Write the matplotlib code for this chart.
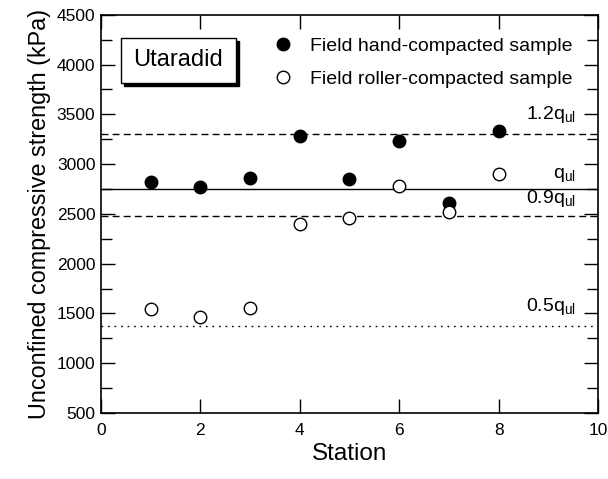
import matplotlib
matplotlib.use("Agg")
import matplotlib.pyplot as plt
from matplotlib.patches import Rectangle
from matplotlib.ticker import MultipleLocator

plt.rcParams['font.family'] = ['Liberation Sans', 'DejaVu Sans']
plt.rcParams['mathtext.fontset'] = 'custom'
plt.rcParams['mathtext.rm'] = 'Liberation Sans'
plt.rcParams['mathtext.it'] = 'Liberation Sans'

stations = [1, 2, 3, 4, 5, 6, 7, 8]
hand_compacted = [2820, 2770, 2860, 3280, 2850, 3230, 2610, 3330]
roller_compacted = [1545, 1460, 1550, 2400, 2460, 2780, 2520, 2900]
q_ul = 2750
ref_factors = [1.2, 1.0, 0.9, 0.5]
ref_labels = [r'1.2q$_{\mathrm{ul}}$', r'q$_{\mathrm{ul}}$', r'0.9q$_{\mathrm{ul}}$', r'0.5q$_{\mathrm{ul}}$']
ref_styles = [(0, (5, 3)), '-', (0, (5, 3)), (0, (1.2, 3.5))]
ref_label_offsets = [90, 50, 70, 90]

fig = plt.figure(figsize=(6.08, 4.79), dpi=100)
ax = fig.add_axes([0.166, 0.138, 0.8176, 0.831])

ax.set_xlim(0, 10)
ax.set_ylim(500, 4500)

for f, lab, ls, off in zip(ref_factors, ref_labels, ref_styles, ref_label_offsets):
    y = f * q_ul
    ax.axhline(y, color='black', lw=1.0, ls=ls, zorder=1)
    ax.text(9.55, y + off, lab, ha='right', va='bottom', fontsize=14)

ax.plot(stations, hand_compacted, 'o', ms=9, mfc='black', mec='black', mew=1.0,
        label='Field hand-compacted sample', zorder=3)
ax.plot(stations, roller_compacted, 'o', ms=9, mfc='white', mec='black', mew=1.0,
        label='Field roller-compacted sample', zorder=3)

leg = ax.legend(loc='upper left', bbox_to_anchor=(0.32, 0.978), frameon=False,
                fontsize=14, handletextpad=0.85, borderaxespad=0.3,
                labelspacing=0.78, handlelength=1.0)

# site name box with drop shadow
bx, by, bw, bh = 0.040, 0.829, 0.231, 0.113
ax.add_patch(Rectangle((bx + 0.006, by - 0.008), bw, bh, transform=ax.transAxes,
                       facecolor='black', edgecolor='black', zorder=4))
ax.add_patch(Rectangle((bx, by), bw, bh, transform=ax.transAxes,
                       facecolor='white', edgecolor='black', lw=1.0, zorder=5))
ax.text(bx + bw / 2, by + bh / 2, 'Utaradid', transform=ax.transAxes,
        ha='center', va='center', fontsize=17, zorder=6)

ax.xaxis.set_major_locator(MultipleLocator(2))
ax.yaxis.set_major_locator(MultipleLocator(500))
ax.yaxis.set_minor_locator(MultipleLocator(250))
ax.tick_params(which='both', direction='in', top=True, right=True, labelsize=12.5,
               width=1.0)
ax.tick_params(which='major', length=10)
ax.tick_params(which='minor', length=8)
ax.tick_params(axis='x', pad=7)
ax.tick_params(axis='y', pad=4)

for s in ax.spines.values():
    s.set_linewidth(1.2)

ax.set_xlabel('Station', fontsize=17.5, labelpad=4)
ax.set_ylabel('Unconfined compressive strength (kPa)', fontsize=16.8, labelpad=4)

fig.savefig('out.png', dpi=100)
